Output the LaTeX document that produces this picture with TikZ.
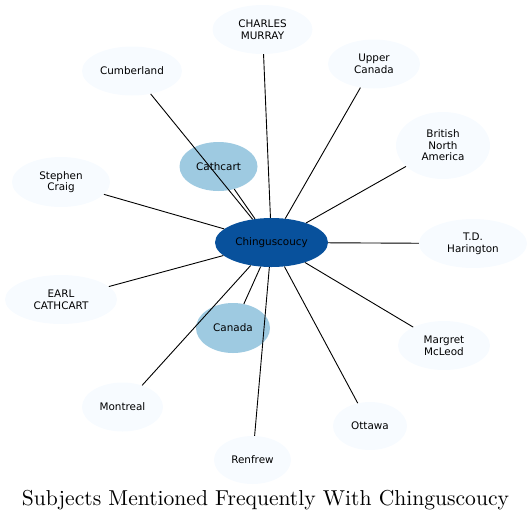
\documentclass[tikz,border=0pt]{standalone}
\usepackage{fontspec}
\usetikzlibrary{shapes.geometric}
\newfontfamily\nodefont{DejaVu Sans}
\definecolor{hubblue}{HTML}{08519C}
\definecolor{midblue}{HTML}{9ECAE1}
\definecolor{paleblue}{HTML}{F7FBFF}
\tikzset{
  bub/.style={ellipse, inner sep=0pt, draw=none, fill=paleblue, align=center,
    font=\nodefont\fontsize{10.4}{11.6}\selectfont, text=black},
  midbub/.style={bub, fill=midblue},
  hubbub/.style={bub, fill=hubblue},
  link/.style={draw=black, line width=0.9pt}
}
\begin{document}
\begin{tikzpicture}[x=1pt,y=-1pt]
\useasboundingbox (0,0) rectangle (532,520);
\node[hubbub, minimum width=113pt, minimum height=49pt] (hub) at (271.5,242.5) {Chinguscoucy};
\node[midbub, minimum width=78pt, minimum height=49pt] (cathcart) at (218.5,166.5) {Cathcart};
\node[midbub, minimum width=74pt, minimum height=50pt] (canada) at (233,328) {Canada};
\node[bub, minimum width=100pt, minimum height=49pt] (murray) at (262.5,29.5) {CHARLES\\MURRAY};
\node[bub, minimum width=100pt, minimum height=49pt] (cumb) at (132,71) {Cumberland};
\node[bub, minimum width=92pt, minimum height=49pt] (upper) at (374,64) {Upper\\Canada};
\node[bub, minimum width=94pt, minimum height=67pt] (bna) at (443,145.5) {British\\North\\America};
\node[bub, minimum width=98pt, minimum height=50pt] (craig) at (61,182) {Stephen\\Craig};
\node[bub, minimum width=108pt, minimum height=49pt] (tdh) at (473,243.5) {T.D.\\Harington};
\node[bub, minimum width=112pt, minimum height=49pt] (earl) at (61,299.5) {EARL\\CATHCART};
\node[bub, minimum width=92pt, minimum height=49pt] (mcleod) at (444,345.5) {Margret\\McLeod};
\node[bub, minimum width=81pt, minimum height=49pt] (montreal) at (122.5,407) {Montreal};
\node[bub, minimum width=74pt, minimum height=48pt] (ottawa) at (370,426) {Ottawa};
\node[bub, minimum width=77pt, minimum height=48pt] (renfrew) at (252.5,460) {Renfrew};
\foreach \n in {cathcart,canada,murray,cumb,upper,bna,craig,tdh,earl,mcleod,montreal,ottawa,renfrew}
  \draw[link] (hub) -- (\n);
\node[inner sep=0pt, anchor=base] (title) at (265.5,505) {\resizebox{487pt}{!}{Subjects Mentioned Frequently With Chinguscoucy}};
\end{tikzpicture}
\end{document}
